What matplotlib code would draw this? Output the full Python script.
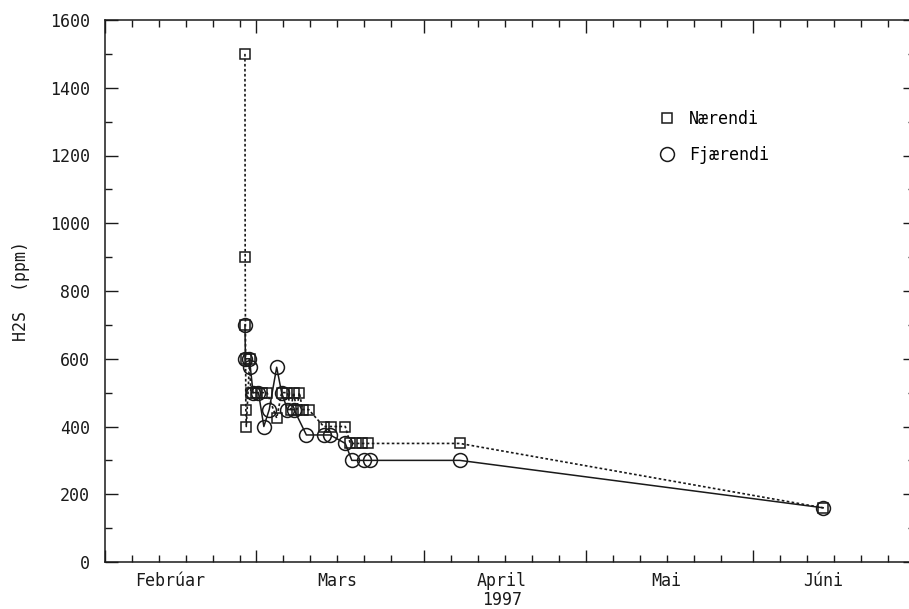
import pandas as pd
import matplotlib
matplotlib.use("Agg")
import matplotlib.pyplot as plt
import matplotlib.dates as mdates
from matplotlib.lines import Line2D

# Nærendi (squares, dotted line)
naer_dates = ["1997-02-26 22:00", "1997-02-26 23:00", "1997-02-27 00:00", "1997-02-27 01:00",
              "1997-02-27 02:00", "1997-02-27 04:00", "1997-02-27 19:00", "1997-02-28 00:00",
              "1997-03-01 00:00", "1997-03-02 00:00", "1997-03-03 00:00", "1997-03-04 19:00",
              "1997-03-05 17:00", "1997-03-06 19:00", "1997-03-07 10:00", "1997-03-07 22:00",
              "1997-03-08 12:00", "1997-03-09 00:00", "1997-03-09 14:00", "1997-03-10 17:00",
              "1997-03-13 12:00", "1997-03-14 19:00", "1997-03-17 12:00", "1997-03-18 10:00",
              "1997-03-19 12:00", "1997-03-20 14:00", "1997-03-21 17:00", "1997-04-07 17:00",
              "1997-06-14 00:00"]
naer_vals = [1500, 900, 700, 600, 450, 400, 600, 500,
             500, 500, 500, 425,
             500, 500, 450, 500,
             450, 500, 450, 450,
             400, 400, 400, 350,
             350, 350, 350, 350,
             160]

# Fjærendi (circles, solid line)
fjaer_dates = ["1997-02-26 22:00", "1997-02-27 00:00", "1997-02-27 17:00", "1997-02-27 22:00",
               "1997-02-28 10:00", "1997-03-01 10:00", "1997-03-02 10:00", "1997-03-03 10:00",
               "1997-03-04 19:00", "1997-03-05 17:00", "1997-03-06 19:00", "1997-03-08 00:00",
               "1997-03-10 07:00", "1997-03-13 12:00", "1997-03-14 17:00", "1997-03-17 12:00",
               "1997-03-18 17:00", "1997-03-21 00:00", "1997-03-22 00:00", "1997-04-07 17:00",
               "1997-06-14 00:00"]
fjaer_vals = [700, 600, 600, 575, 500, 500, 400, 450,
              575, 500, 450, 450, 375, 375, 375, 350,
              300, 300, 300, 300, 160]

months = ["Febrúar", "Mars", "April", "Mai", "Júni"]
month_label_pos = ["1997-02-13", "1997-03-16", "1997-04-15 12:00", "1997-05-16", "1997-06-14"]

plt.rcParams['font.family'] = ['DejaVu Sans Mono', 'DejaVu Sans']
plt.rcParams['font.size'] = 12
ink = '#1a1a1a'

fig = plt.figure(figsize=(9.09, 6.09), dpi=100)
ax = fig.add_axes([105 / 909, 1 - 562 / 609, 810 / 909, 542 / 609])

nd = pd.to_datetime(naer_dates)
fd = pd.to_datetime(fjaer_dates)

ax.plot(nd, naer_vals, color=ink, lw=1.2, ls=(0, (1.6, 1.4)), marker='s', ms=6.5,
        mfc='none', mec=ink, mew=1.1)
ax.plot(fd, fjaer_vals, color=ink, lw=1.1, ls='-', marker='o', ms=10,
        mfc='none', mec=ink, mew=1.1)

ax.set_xlim(pd.Timestamp("1997-02-01"), pd.Timestamp("1997-07-01"))
ax.set_ylim(0, 1600)

ax.xaxis.set_major_locator(mdates.MonthLocator())
ax.xaxis.set_minor_locator(mdates.DayLocator(bymonthday=[6, 11, 16, 21, 26]))
ax.xaxis.set_major_formatter(plt.NullFormatter())
ax.set_yticks(range(0, 1601, 200))
ax.set_yticks(range(100, 1600, 200), minor=True)

ax.tick_params(which='both', direction='in', top=True, right=True, color=ink, width=1.0)
ax.tick_params(which='major', length=9)
ax.tick_params(which='minor', length=5)
ax.tick_params(axis='y', pad=11, labelcolor=ink)
for s in ax.spines.values():
    s.set_color(ink)
    s.set_linewidth(1.1)

for m, p in zip(months, month_label_pos):
    ax.annotate(m, xy=(pd.Timestamp(p), 0), xycoords=('data', 'axes fraction'),
                xytext=(0, -7), textcoords='offset points', ha='center', va='top', color=ink)
ax.annotate("1997", xy=(pd.Timestamp(month_label_pos[2]), 0), xycoords=('data', 'axes fraction'),
            xytext=(0, -21), textcoords='offset points', ha='center', va='top', color=ink)

ax.set_ylabel("H2S  (ppm)", color=ink, labelpad=14)

handles = [Line2D([], [], ls='none', marker='s', ms=6.5, mfc='none', mec=ink, mew=1.1),
           Line2D([], [], ls='none', marker='o', ms=10, mfc='none', mec=ink, mew=1.1)]
ax.legend(handles, ["Nærendi", "Fjærendi"], loc='upper left',
          bbox_to_anchor=(657 / 909, 1 - 110 / 609), bbox_transform=fig.transFigure,
          frameon=False, borderpad=0, borderaxespad=0, handlelength=1.2,
          handletextpad=0.7, labelspacing=1.1)

fig.savefig("out.png", dpi=100)
